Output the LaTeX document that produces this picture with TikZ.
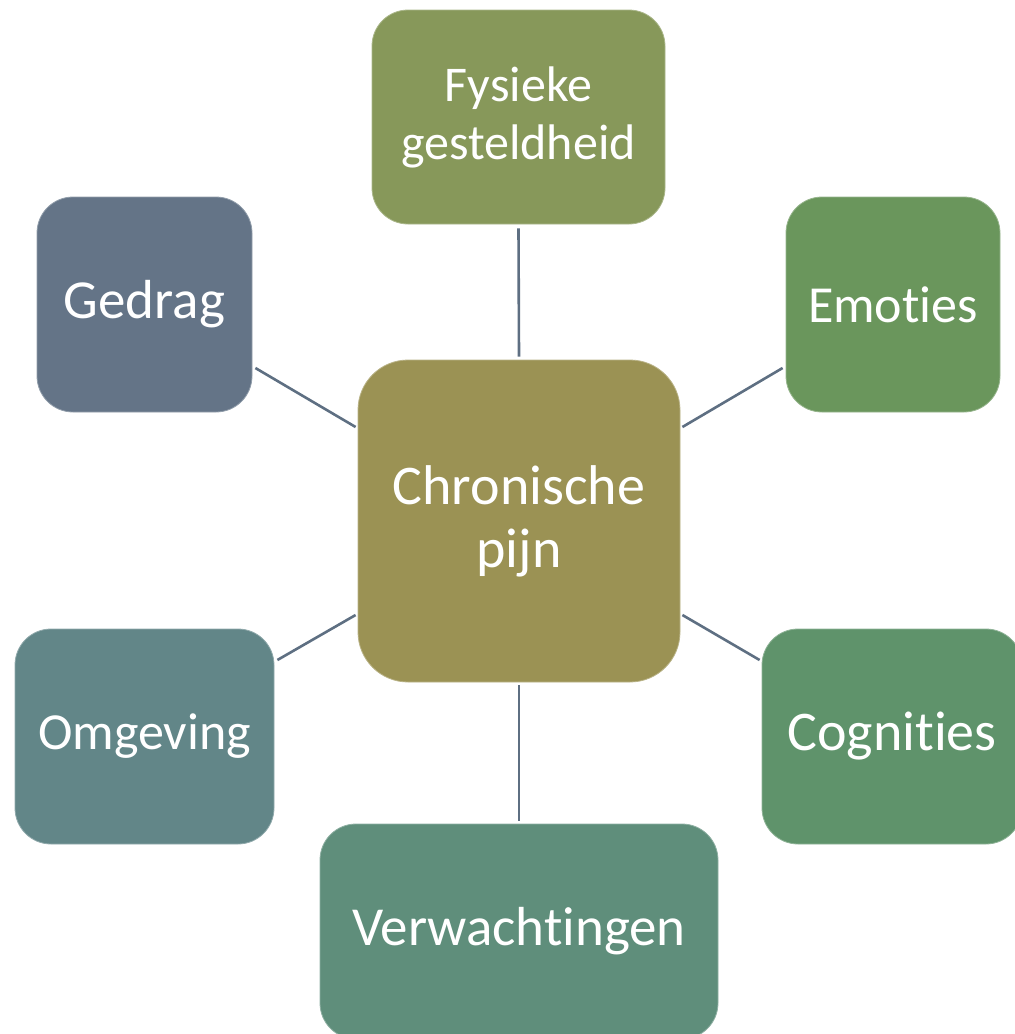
\documentclass[tikz,border=0pt]{standalone}
\usepackage{fontspec}
\setmainfont[Ligatures=NoCommon]{Carlito}
\usetikzlibrary{calc}
\definecolor{cfys}{HTML}{87985A}
\definecolor{cged}{HTML}{647487}
\definecolor{cemo}{HTML}{6A965C}
\definecolor{ccen}{HTML}{9B9254}
\definecolor{comg}{HTML}{628688}
\definecolor{ccog}{HTML}{5F936B}
\definecolor{cver}{HTML}{5F8E7B}
\definecolor{cline}{HTML}{5E6F82}
\tikzset{
  box/.style={rounded corners=36pt, inner sep=0pt, text=white, align=center, draw=white!30!#1, line width=0.8pt, fill=#1},
  link/.style={draw=cline, line width=2.6pt}
}
\begin{document}
\begin{tikzpicture}[x=1pt,y=-1pt]
\useasboundingbox (0,0) rectangle (1015,1034);
\clip (0,0) rectangle (1015,1034);
\node[box=cfys, minimum width=293pt, minimum height=214pt, font=\fontsize{50}{58}\selectfont] (fys) at (518.5,117) {Fysieke\\gesteldheid};
\node[box=cged, minimum width=215pt, minimum height=215pt, font=\fontsize{55}{62}\selectfont] (ged) at (144.5,304.5) {Gedrag};
\node[box=cemo, minimum width=214pt, minimum height=215pt, font=\fontsize{52}{62}\selectfont] (emo) at (893,304.5) {Emoties};
\node[box=ccen, rounded corners=50pt, minimum width=322pt, minimum height=322pt, font=\fontsize{56}{63}\selectfont] (cen) at (519,521) {Chronische\\pijn};
\node[box=comg, minimum width=259pt, minimum height=215pt, font=\fontsize{52}{62}\selectfont] (omg) at (144.5,736.5) {Omgeving};
\node[box=ccog, minimum width=260pt, minimum height=215pt, font=\fontsize{56}{62}\selectfont] (cog) at (892,736.5) {Cognities};
\node[box=cver, minimum width=398pt, minimum height=215pt, font=\fontsize{55}{62}\selectfont] (ver) at (519,931.5) {Verwachtingen};
\draw[link] ([shift={(0,4)}]fys.south) -- ([shift={(0,-3)}]cen.north);
\draw[link] ([shift={(3,63.5)}]ged.east) -- ([shift={(-2,-94)}]cen.west);
\draw[link] ([shift={(-3,63.5)}]emo.west) -- ([shift={(2,-94)}]cen.east);
\draw[link] ([shift={(3,-76.5)}]omg.east) -- ([shift={(-2,94)}]cen.west);
\draw[link] ([shift={(-2,-76.5)}]cog.west) -- ([shift={(2,94)}]cen.east);
\draw[link] ([shift={(0,-3)}]ver.north) -- ([shift={(0,3)}]cen.south);
\end{tikzpicture}
\end{document}
